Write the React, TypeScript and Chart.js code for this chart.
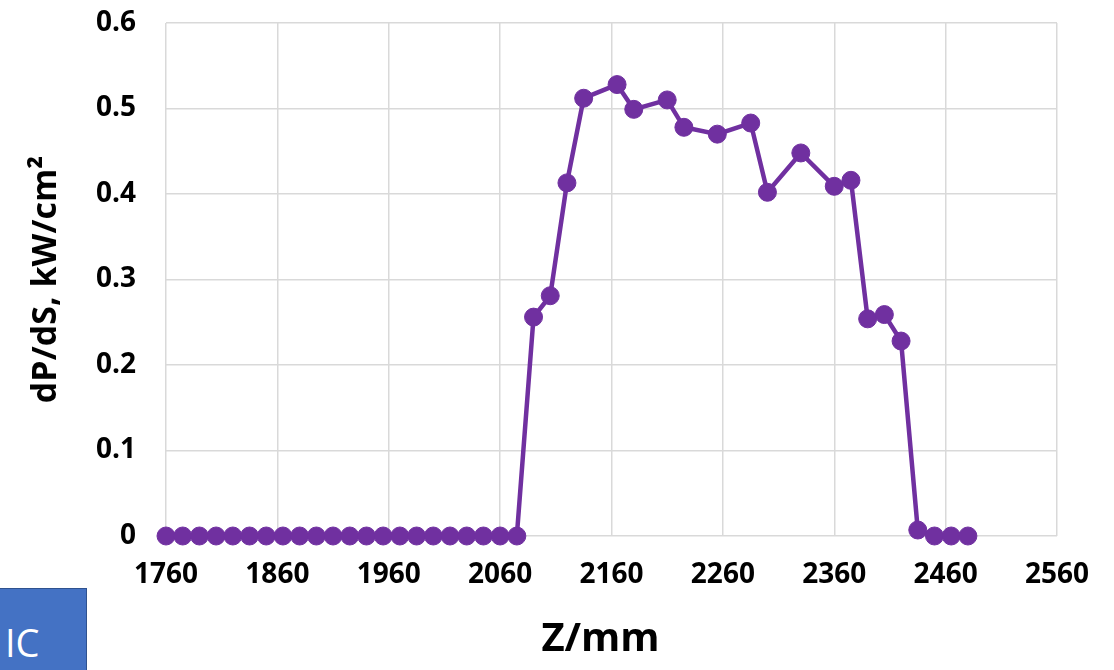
import React, { useEffect, useRef } from "react";
import { Chart, registerables } from "chart.js";

Chart.register(...registerables);

const zValues: number[] = [
  1760, 1775, 1790, 1805, 1820, 1835, 1850, 1865, 1880, 1895, 1910,
  1925, 1940, 1955, 1970, 1985, 2000, 2015, 2030, 2045, 2060, 2075,
  2090, 2105, 2120, 2135, 2165, 2180, 2210, 2225, 2255, 2285, 2300,
  2330, 2360, 2375, 2390, 2405, 2420, 2435, 2450, 2465, 2480,
];

const dPdS: number[] = [
  0, 0, 0, 0, 0, 0, 0, 0, 0, 0, 0,
  0, 0, 0, 0, 0, 0, 0, 0, 0, 0, 0,
  0.256, 0.281, 0.413, 0.512, 0.528, 0.499, 0.51, 0.478, 0.47, 0.483, 0.402,
  0.448, 0.409, 0.416, 0.254, 0.259, 0.228, 0.007, 0, 0, 0,
];

const xTitle = "Z/mm";
const yTitle = "dP/dS, kW/cm²";
const boxLabel = "IC";

const FONT = "'Open Sans', 'Noto Sans', sans-serif";

const xTitlePlugin = {
  id: "xTitlePlugin",
  afterDraw(chart: any) {
    const ctx = chart.ctx;
    const area = chart.chartArea;
    ctx.save();
    ctx.font = `bold 40px ${FONT}`;
    ctx.fillStyle = "#000";
    ctx.textAlign = "center";
    ctx.textBaseline = "middle";
    ctx.fillText(xTitle, (area.left + area.right) / 2 - 11, 640);
    ctx.restore();
  },
};

export default function App() {
  const canvasRef = useRef<HTMLCanvasElement | null>(null);

  useEffect(() => {
    if (!canvasRef.current) return;
    const points = zValues.map((z, i) => ({ x: z, y: dPdS[i] }));
    const chart = new Chart(canvasRef.current, {
      type: "scatter",
      data: {
        datasets: [
          {
            data: points,
            showLine: true,
            borderColor: "#7030A0",
            backgroundColor: "#7030A0",
            borderWidth: 4.5,
            pointRadius: 9,
            pointBorderWidth: 1,
            pointBorderColor: "#7030A0",
            pointBackgroundColor: "#7030A0",
            clip: false as any,
          },
        ],
      },
      options: {
        animation: false,
        responsive: false,
        layout: { padding: { top: 23, right: 57, left: 0, bottom: 0 } },
        plugins: { legend: { display: false }, tooltip: { enabled: false } },
        scales: {
          x: {
            type: "linear",
            min: 1760,
            max: 2560,
            afterFit: (s: any) => {
              s.height = 134;
              s.paddingLeft = 0;
              s.paddingRight = 0;
            },
            ticks: {
              stepSize: 100,
              color: "#000",
              padding: 22,
              font: { family: FONT, size: 28, weight: "bold" },
              callback: (v: any) => String(v),
            },
            grid: { color: "#d9d9d9", lineWidth: 1.5, drawTicks: false },
            border: { display: false },
            title: { display: false },
          },
          y: {
            type: "linear",
            min: 0,
            max: 0.6,
            afterFit: (s: any) => {
              s.width = 166;
              s.paddingTop = 0;
              s.paddingBottom = 0;
            },
            ticks: {
              stepSize: 0.1,
              color: "#000",
              padding: 30,
              font: { family: FONT, size: 28, weight: "bold" },
              callback: (v: any) => (Number(v) === 0 ? "0" : Number(v).toFixed(1)),
            },
            grid: { color: "#d9d9d9", lineWidth: 1.5, drawTicks: false },
            border: { display: false },
            title: {
              display: true,
              text: yTitle,
              color: "#000",
              font: { family: FONT, size: 34, weight: "bold" },
              padding: { top: 26, bottom: 0 },
            },
          },
        },
      },
      plugins: [xTitlePlugin],
    });
    return () => chart.destroy();
  }, []);

  return (
    <div style={{ position: "absolute", left: 0, top: 0, width: 1114, height: 670, background: "#fff", overflow: "hidden" }}>
      <canvas ref={canvasRef} width={1114} height={670} style={{ display: "block" }} />
      <div
        style={{
          position: "absolute",
          left: -1,
          top: 588,
          width: 88,
          height: 90,
          background: "#4472C4",
          border: "1.5px solid #2F528F",
          boxSizing: "border-box",
          color: "#fff",
          fontFamily: FONT,
          fontSize: 38,
          lineHeight: "40px",
          paddingTop: 33,
          paddingLeft: 5,
        }}
      >
        {boxLabel}
      </div>
    </div>
  );
}
